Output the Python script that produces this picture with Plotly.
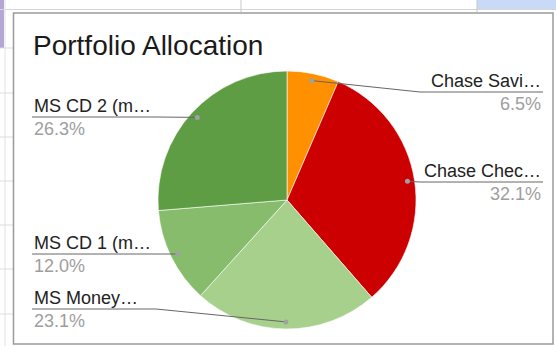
import math
import plotly.graph_objects as go

# ---- data ----
labels = ["Chase Savings", "Chase Checking", "MS Money Market", "MS CD 1 (matures)", "MS CD 2 (matures)"]
short_labels = ["Chase Savi…", "Chase Chec…", "MS Money…", "MS CD 1 (m…", "MS CD 2 (m…"]
values = [6.5, 32.1, 23.1, 12.0, 26.3]
colors = ["#ff9100", "#cc0000", "#a8d08d", "#86bc6c", "#5f9d45"]
title_text = "Portfolio Allocation"

# ---- layout constants (pixels) ----
W, H = 556, 346
CX, CY, R = 287, 200, 129
label_side = ["right", "right", "left", "left", "left"]
label_y = [92, 182, 309, 254, 117]
RIGHT_END, LEFT_START = 543, 32
RIGHT_ELBOW, LEFT_ELBOW = 420, 156

fig = go.Figure()

fig.add_trace(go.Pie(
    labels=labels, values=values, sort=False, direction="clockwise", rotation=0,
    marker=dict(colors=colors, line=dict(color="white", width=0.6)),
    textinfo="none", hoverinfo="none", showlegend=False,
    domain=dict(x=[(CX - R) / W, (CX + R) / W], y=[(H - CY - R) / H, (H - CY + R) / H]),
))
# invisible trace to activate the pixel-coordinate overlay axes
fig.add_trace(go.Scatter(x=[0, W], y=[0, H], mode="markers", hoverinfo="none",
                         showlegend=False, marker=dict(size=1, opacity=0)))

total = sum(values)
shapes = []
annotations = []
cum = 0.0
for i, v in enumerate(values):
    theta = 2 * math.pi * (cum + v / 2) / total
    cum += v
    dx = CX + 0.945 * R * math.sin(theta)
    dy = CY - 0.945 * R * math.cos(theta)
    ly = label_y[i]
    if label_side[i] == "right":
        elbow, end, anchor = RIGHT_ELBOW, RIGHT_END, "right"
        if elbow < dx:
            elbow = dx
    else:
        elbow, end, anchor = LEFT_ELBOW, LEFT_START, "left"
        if elbow > dx:
            elbow = dx
    shapes.append(dict(type="path", xref="x", yref="y",
                       path=f"M {dx:.1f} {dy:.1f} L {elbow:.1f} {ly} L {end} {ly}",
                       line=dict(color="#666666", width=1)))
    shapes.append(dict(type="circle", xref="x", yref="y", x0=dx - 2.5, x1=dx + 2.5,
                       y0=dy - 2.5, y1=dy + 2.5, fillcolor="#a0a0a0",
                       line=dict(color="#a0a0a0", width=0)))
    annotations.append(dict(x=end, y=ly - 11, xref="x", yref="y", text=short_labels[i],
                            showarrow=False, xanchor=anchor, yanchor="middle",
                            font=dict(family="Liberation Sans, Arial", size=18, color="#222222")))
    annotations.append(dict(x=end, y=ly + 12, xref="x", yref="y", text=f"{v:.1f}%",
                            showarrow=False, xanchor=anchor, yanchor="middle",
                            font=dict(family="Liberation Sans, Arial", size=18, color="#9e9e9e")))

annotations.append(dict(x=31, y=45, xref="x", yref="y", text=title_text, showarrow=False,
                        xanchor="left", yanchor="middle",
                        font=dict(family="Liberation Sans, Arial", size=28, color="#1a1a1a")))

# spreadsheet backdrop
bg = [
    dict(type="rect", x0=477, x1=W, y0=0, y1=10, fillcolor="#c9daf8", line=dict(width=0)),
    dict(type="rect", x0=0, x1=4, y0=0, y1=48, fillcolor="#b4a7d6", line=dict(width=0)),
    dict(type="line", x0=0, x1=W, y0=9.5, y1=9.5, line=dict(color="#d6d6d6", width=1)),
    dict(type="line", x0=241, x1=241, y0=0, y1=12, line=dict(color="#c8c8c8", width=1)),
    dict(type="line", x0=477, x1=477, y0=0, y1=12, line=dict(color="#c8c8c8", width=1)),
    dict(type="line", x0=5, x1=5, y0=0, y1=H, line=dict(color="#e2e2e2", width=1)),
]
for gy in [48, 93, 137, 181, 225, 269, 314]:
    bg.append(dict(type="line", x0=0, x1=13, y0=gy, y1=gy, line=dict(color="#dddddd", width=1)))
bg.append(dict(type="rect", x0=13.5, x1=553, y0=13, y1=344, fillcolor="rgba(0,0,0,0)",
               line=dict(color="#9a9a9a", width=1.5)))
for s in bg:
    s.update(xref="x", yref="y", layer="below")

fig.update_layout(
    width=W, height=H, margin=dict(l=0, r=0, t=0, b=0),
    paper_bgcolor="white", plot_bgcolor="rgba(0,0,0,0)",
    xaxis=dict(range=[0, W], visible=False, fixedrange=True, domain=[0, 1]),
    yaxis=dict(range=[H, 0], visible=False, fixedrange=True, domain=[0, 1]),
    shapes=bg + shapes, annotations=annotations, showlegend=False,
)

fig.write_html("out.html")
